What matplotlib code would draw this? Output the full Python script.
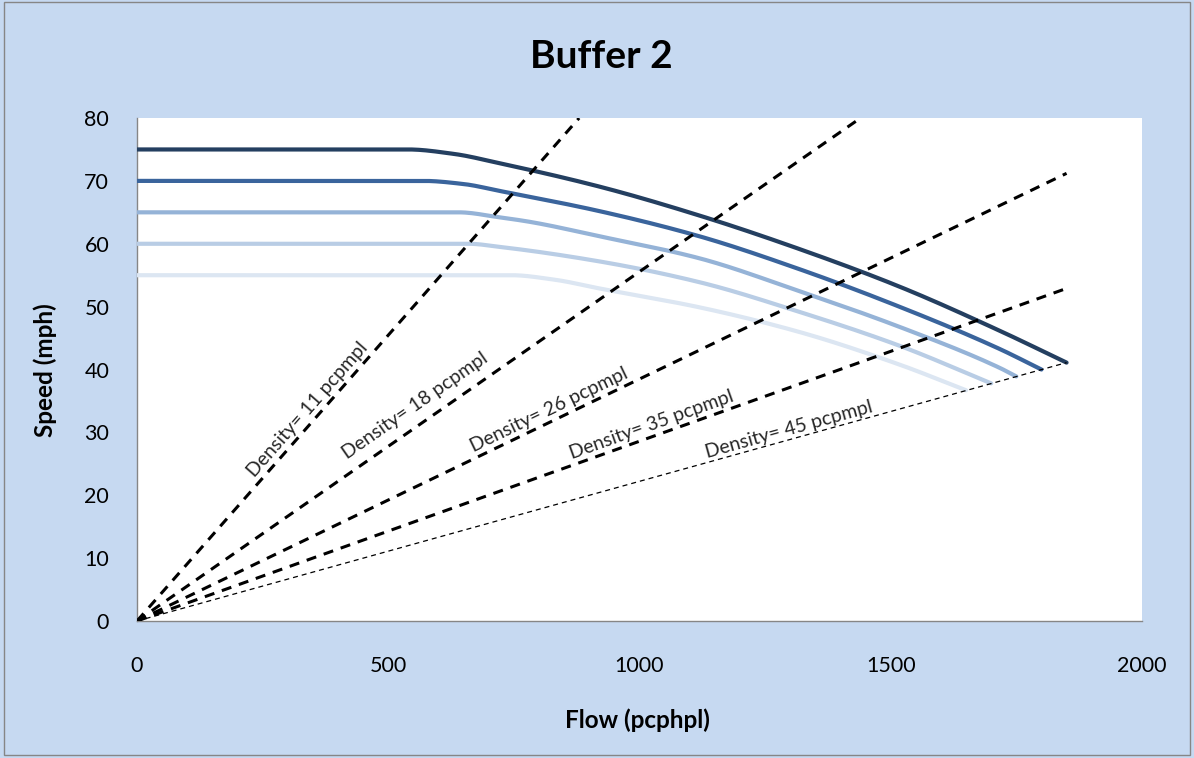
import matplotlib
matplotlib.use("Agg")
import matplotlib.pyplot as plt
import numpy as np
from matplotlib.patches import Rectangle

plt.rcParams['font.family'] = ['Lato', 'DejaVu Sans']

# ---- data ----
title = "Buffer 2"
xlabel = "Flow (pcphpl)"
ylabel = "Speed (mph)"
x_ticks = [0, 500, 1000, 1500, 2000]
y_ticks = [0, 10, 20, 30, 40, 50, 60, 70, 80]

# speed-flow curves (free-flow speed series)
flow_75 = [0, 540, 630, 722, 920, 1119, 1317, 1517, 1716, 1850]
speed_75 = [75, 75, 74.3, 72.8, 69.1, 64.5, 59.2, 53.2, 46.2, 41.1]
flow_70 = [0, 570, 650, 722, 920, 1119, 1317, 1517, 1716, 1800]
speed_70 = [70, 70, 69.5, 68.4, 65.2, 61.2, 56.0, 50.0, 43.3, 40.0]
flow_65 = [0, 640, 722, 781, 920, 1119, 1317, 1517, 1716, 1750]
speed_65 = [65, 65, 64.2, 63.5, 61.2, 57.7, 52.5, 46.8, 40.3, 38.9]
flow_60 = [0, 660, 722, 920, 1119, 1317, 1517, 1700]
speed_60 = [60, 60, 59.5, 57.2, 53.9, 49.2, 43.8, 37.8]
flow_55 = [0, 745, 830, 920, 1119, 1317, 1517, 1650]
speed_55 = [55, 55, 54.3, 52.9, 49.9, 46.0, 40.8, 36.7]

# constant-density lines (end points)
dens_labels = ["Density= 11 pcpmpl", "Density= 18 pcpmpl", "Density= 26 pcpmpl",
               "Density= 35 pcpmpl", "Density= 45 pcpmpl"]
dens_flow_end = [880, 1440, 1850, 1850, 1850]
dens_speed_end = [80, 80, 71.2, 52.9, 41.1]
# label anchor points (flow, speed)
label_flow = [340, 553, 821, 1024, 1298]
label_speed = [33.6, 34.2, 33.6, 31.2, 30.4]

curve_colors = ["#243F60", "#3A649C", "#95B3D7", "#B9CDE5", "#DCE6F2"]
bg = "#C6D9F1"


def smooth_path(x, y, n=400):
    """Monotone cubic (Fritsch-Carlson) rendering of a polyline, like a smoothed line."""
    x = np.asarray(x, float)
    y = np.asarray(y, float)
    h = np.diff(x)
    d = np.diff(y) / h
    m = np.zeros_like(y)
    m[0], m[-1] = d[0], d[-1]
    for k in range(1, len(x) - 1):
        if d[k - 1] * d[k] <= 0:
            m[k] = 0.0
        else:
            w1 = 2 * h[k] + h[k - 1]
            w2 = h[k] + 2 * h[k - 1]
            m[k] = (w1 + w2) / (w1 / d[k - 1] + w2 / d[k])
    xs = np.linspace(x[0], x[-1], n)
    idx = np.clip(np.searchsorted(x, xs) - 1, 0, len(x) - 2)
    t = (xs - x[idx]) / h[idx]
    h00 = 2 * t**3 - 3 * t**2 + 1
    h10 = t**3 - 2 * t**2 + t
    h01 = -2 * t**3 + 3 * t**2
    h11 = t**3 - t**2
    ys = h00 * y[idx] + h10 * h[idx] * m[idx] + h01 * y[idx + 1] + h11 * h[idx] * m[idx + 1]
    return xs, ys


fig = plt.figure(figsize=(11.94, 7.58), dpi=100, facecolor=bg)
ax = fig.add_axes([0.1147, 0.1807, 0.8417, 0.6636])
ax.set_facecolor("white")

curves = [(flow_55, speed_55), (flow_60, speed_60), (flow_65, speed_65),
          (flow_70, speed_70), (flow_75, speed_75)]
cols = curve_colors[::-1]
for (fx, sy), c in zip(curves, cols):
    xs, ys = smooth_path(fx, sy)
    ax.plot(xs, ys, color=c, lw=3.0, solid_capstyle='round', zorder=3)

for i in range(5):
    if i < 4:
        ax.plot([0, dens_flow_end[i]], [0, dens_speed_end[i]], color="black",
                lw=2.2, dashes=(3.3, 2.6), zorder=4)
    else:
        ax.plot([0, dens_flow_end[i]], [0, dens_speed_end[i]], color="black",
                lw=0.9, dashes=(4, 3.2), zorder=4)

ax.set_xlim(0, 2000)
ax.set_ylim(0, 80)
ax.set_xticks(x_ticks)
ax.set_yticks(y_ticks)
ax.tick_params(length=0, labelsize=15.5, colors="black")
ax.tick_params(axis='x', pad=25)
ax.tick_params(axis='y', pad=20)
for s in ["top", "right"]:
    ax.spines[s].set_visible(False)
for s in ["left", "bottom"]:
    ax.spines[s].set_color("#868686")
    ax.spines[s].set_linewidth(1.0)

# labels rotated along the density lines
for i in range(5):
    p0 = ax.transData.transform((0, 0))
    p1 = ax.transData.transform((dens_flow_end[i], dens_speed_end[i]))
    ang = np.degrees(np.arctan2(p1[1] - p0[1], p1[0] - p0[0]))
    ax.text(label_flow[i], label_speed[i], dens_labels[i], rotation=ang,
            rotation_mode='anchor', ha='center', va='center',
            fontsize=14, color="#262626", zorder=5)

fig.text(0.504, 0.925, title, ha='center', va='center', fontsize=28,
         fontweight='bold')
fig.text(0.534, 0.05, xlabel, ha='center', va='center', fontsize=17.5,
         fontweight='bold')
fig.text(0.038, 0.512, ylabel, ha='center', va='center', fontsize=17.5,
         fontweight='bold', rotation=90)

fig.patches.append(Rectangle((0.003, 0.004), 0.994, 0.994, transform=fig.transFigure,
                             fill=False, edgecolor="#868686", lw=1.0))

fig.savefig("out.png", dpi=100, facecolor=bg)
